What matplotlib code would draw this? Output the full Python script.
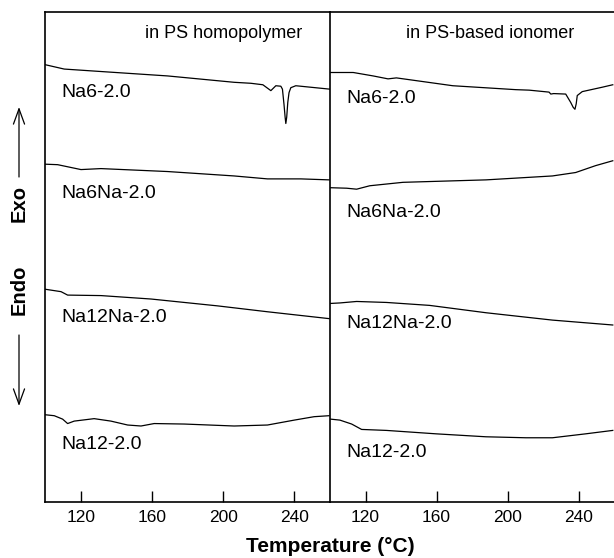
import numpy as np
import matplotlib
matplotlib.use("Agg")
import matplotlib.pyplot as plt

plt.rcParams['font.family'] = ['Liberation Sans', 'DejaVu Sans']

# DSC traces, temperature (C) vs offset heat flow (arb. units)
# left panel: in PS homopolymer
hp_na6_T = [100, 110.8, 131.4, 168.8, 206.2, 215.6, 222.3, 226.8, 229.6, 232.4, 233.3, 234.2, 234.8, 235.2, 235.7, 236.3, 237, 238, 240.8, 260]
hp_na6_y = [8.92, 8.83, 8.78, 8.69, 8.56, 8.54, 8.51, 8.39, 8.49, 8.48, 8.42, 8.10, 7.85, 7.72, 7.85, 8.15, 8.35, 8.45, 8.49, 8.42]
hp_na6na_T = [100, 107.1, 120.2, 131.4, 168.8, 206.2, 224.9, 243.6, 259.5]
hp_na6na_y = [6.89, 6.88, 6.78, 6.80, 6.74, 6.65, 6.59, 6.59, 6.57]
hp_na12na_T = [100, 109, 112.7, 131.4, 159.5, 196.9, 224.9, 259.5]
hp_na12na_y = [4.34, 4.29, 4.22, 4.21, 4.14, 4.00, 3.88, 3.74]
hp_na12_T = [100, 105.2, 109.9, 112.7, 116.4, 127.6, 137, 146.4, 153.9, 161.3, 178.2, 206.2, 224.9, 239.9, 251.1, 259.5]
hp_na12_y = [1.78, 1.76, 1.69, 1.60, 1.65, 1.70, 1.65, 1.57, 1.55, 1.60, 1.59, 1.55, 1.57, 1.67, 1.74, 1.76]

# right panel: in PS-based ionomer
io_na6_T = [100.4, 113.1, 124.3, 132.7, 137.4, 169.2, 204.7, 212.2, 223.4, 224.4, 226, 232.8, 235.6, 237, 238, 238.7, 239.3, 242.1, 253.4, 259.3]
io_na6_y = [8.76, 8.76, 8.69, 8.63, 8.65, 8.49, 8.41, 8.40, 8.36, 8.32, 8.33, 8.32, 8.15, 8.05, 8.01, 8.12, 8.29, 8.37, 8.46, 8.51]
io_na6na_T = [100.4, 109.4, 115, 122.4, 141.1, 187.9, 225.3, 238.4, 249.6, 259.3]
io_na6na_y = [6.41, 6.40, 6.38, 6.45, 6.52, 6.57, 6.65, 6.72, 6.86, 6.96]
io_na12na_T = [100.4, 105.6, 115, 131.8, 156.1, 187.9, 225.3, 259.3]
io_na12na_y = [4.05, 4.06, 4.09, 4.07, 4.01, 3.86, 3.71, 3.61]
io_na12_T = [100.4, 105.6, 112.2, 117.8, 131.8, 159.9, 187.9, 210.4, 225.3, 244, 259.3]
io_na12_y = [1.69, 1.67, 1.59, 1.48, 1.46, 1.39, 1.33, 1.31, 1.31, 1.39, 1.46]

names = ["Na6-2.0", "Na6Na-2.0", "Na12Na-2.0", "Na12-2.0"]
hp_label_y = [8.35, 6.29, 3.76, 1.18]
io_label_y = [8.22, 5.90, 3.65, 1.00]
xticks = [120, 160, 200, 240]

fig = plt.figure(figsize=(6.14, 5.58), dpi=100)
axL = fig.add_axes([45/614, 56/558, 285/614, 490.3/558])
axR = fig.add_axes([330/614, 56/558, 284/614, 490.3/558])

panels = [
    (axL, "in PS homopolymer", 200.4,
     [(hp_na6_T, hp_na6_y), (hp_na6na_T, hp_na6na_y), (hp_na12na_T, hp_na12na_y), (hp_na12_T, hp_na12_y)],
     hp_label_y),
    (axR, "in PS-based ionomer", 190.3,
     [(io_na6_T, io_na6_y), (io_na6na_T, io_na6na_y), (io_na12na_T, io_na12na_y), (io_na12_T, io_na12_y)],
     io_label_y),
]

for ax, title, tx, curves, ly in panels:
    for (T, y), name, yy in zip(curves, names, ly):
        ax.plot(T, y, color="black", lw=0.9, solid_joinstyle="round")
        ax.text(109, yy, name, fontsize=14, va="center", ha="left")
    ax.text(tx, 9.55, title, fontsize=13, ha="center", va="center")
    ax.set_xlim(100, 260)
    ax.set_ylim(0, 10)
    ax.set_xticks(xticks)
    ax.set_yticks([])
    ax.tick_params(axis="x", direction="in", length=8, width=1, labelsize=12.5, pad=6)
    for s in ax.spines.values():
        s.set_linewidth(1.2)

axR.spines["right"].set_visible(False)
axL.spines["right"].set_visible(False)

fig.text(330/614, 1 - 546/558, "Temperature (\u00b0C)", fontsize=15, fontweight="bold",
         ha="center", va="center")

# Exo / Endo axis label with arrows
xa = 19/614
fig.text(xa, 1 - 203/558, "Exo", rotation=90, fontsize=14.5, fontweight="bold", ha="center", va="center")
fig.text(xa, 1 - 290/558, "Endo", rotation=90, fontsize=14.5, fontweight="bold", ha="center", va="center")
for y0, y1 in [(177, 107), (335, 406)]:
    fig.add_artist(matplotlib.patches.FancyArrowPatch((xa, 1 - y0/558), (xa, 1 - y1/558),
                   transform=fig.transFigure, arrowstyle="->,head_length=11,head_width=4",
                   lw=0.9, color="black", shrinkA=0, shrinkB=0))

fig.savefig("out.png", dpi=100)
